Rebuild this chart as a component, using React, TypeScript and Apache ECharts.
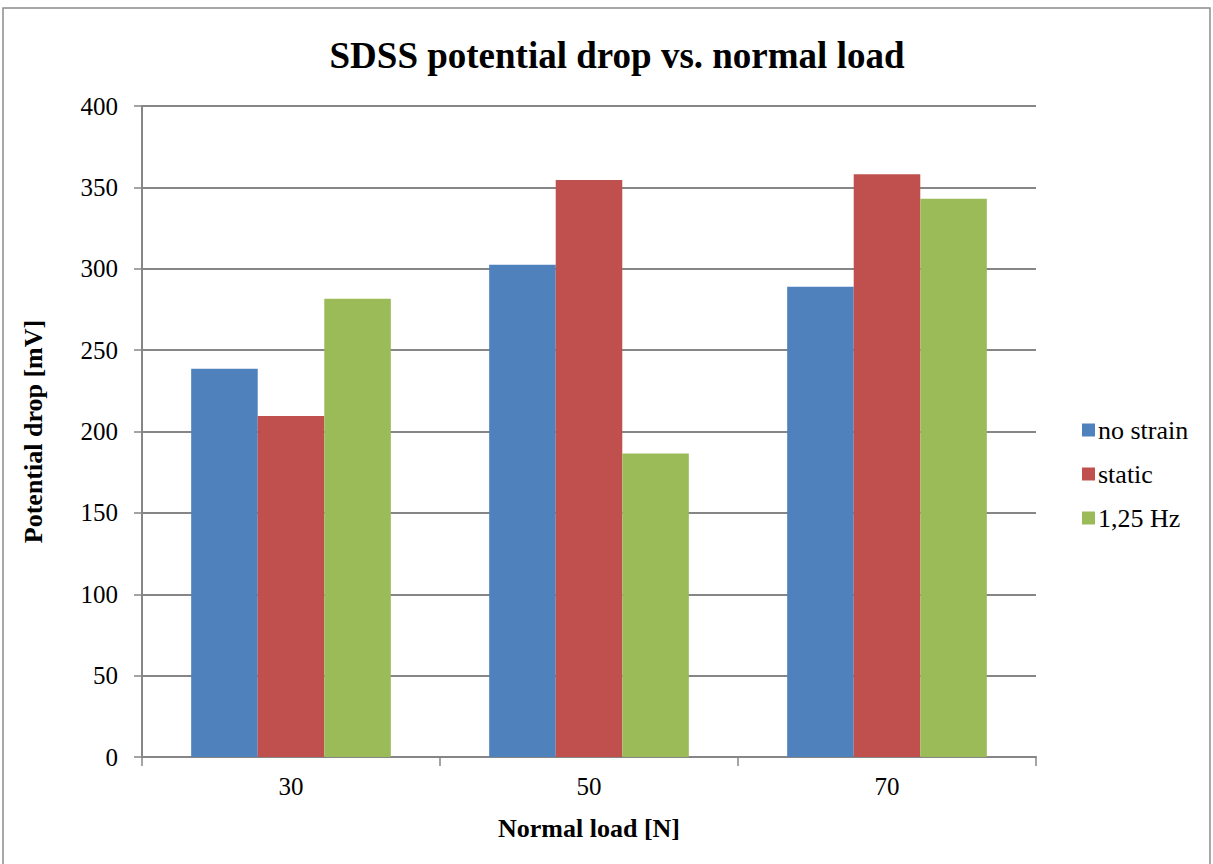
import React, { useEffect, useRef } from "react";
import * as echarts from "echarts";

const categories = ["30", "50", "70"];
const noStrain = [238.5, 302.5, 289];
const staticStrain = [209.5, 354.5, 358];
const hz125 = [281.5, 186.5, 343];
const seriesNames = ["no strain", "static", "1,25 Hz"];
const colors = ["#4F81BD", "#C0504D", "#9BBB59"];

const serif = "'Liberation Serif', 'Times New Roman', serif";

export default function App() {
  const ref = useRef<HTMLDivElement>(null);

  useEffect(() => {
    if (!ref.current) return;
    const chart = echarts.init(ref.current, undefined, { renderer: "svg" });
    const values = [noStrain, staticStrain, hz125];
    chart.setOption({
      animation: false,
      backgroundColor: "#ffffff",
      textStyle: { fontFamily: serif },
      title: {
        text: "SDSS potential drop vs. normal load",
        left: 612,
        textAlign: "center",
        top: 32,
        textStyle: { fontFamily: serif, fontSize: 37, fontWeight: "bold", color: "#000" },
      },
      graphic: [
        {
          type: "rect",
          shape: { x: 3, y: 8, width: 1207, height: 900 },
          style: { fill: "none", stroke: "#8c8c8c", lineWidth: 1.5 },
          silent: true,
          z: -1,
        },
      ],
      legend: {
        orient: "vertical",
        left: 1077,
        top: 412,
        itemWidth: 13,
        itemHeight: 13,
        itemGap: 18,
        icon: "rect",
        textStyle: { fontFamily: serif, fontSize: 26, color: "#000", padding: [0, 0, 0, -2] },
        data: seriesNames,
      },
      grid: { left: 142, right: 177, top: 106, bottom: 107 },
      xAxis: {
        type: "category",
        data: categories,
        name: "Normal load [N]",
        nameLocation: "middle",
        nameGap: 58,
        nameTextStyle: { fontFamily: serif, fontSize: 26, fontWeight: "bold", color: "#000" },
        axisLine: { lineStyle: { color: "#868686", width: 2 } },
        axisTick: { show: true, length: 9, lineStyle: { color: "#868686", width: 1.5 } },
        axisLabel: { fontFamily: serif, fontSize: 25, color: "#000", margin: 17 },
      },
      yAxis: {
        type: "value",
        min: 0,
        max: 400,
        interval: 50,
        name: "Potential drop [mV]",
        nameLocation: "middle",
        nameGap: 96,
        nameTextStyle: { fontFamily: serif, fontSize: 26, fontWeight: "bold", color: "#000" },
        axisLine: { show: true, lineStyle: { color: "#868686", width: 2 } },
        axisTick: { show: true, length: 8, lineStyle: { color: "#868686", width: 1.5 } },
        axisLabel: { fontFamily: serif, fontSize: 25, color: "#000", margin: 24 },
        splitLine: { lineStyle: { color: "#868686", width: 2 } },
      },
      series: seriesNames.map((name, i) => ({
        name,
        type: "bar",
        data: values[i],
        barGap: "0%",
        barCategoryGap: "33%",
        itemStyle: { color: colors[i] },
      })),
    });
    return () => chart.dispose();
  }, []);

  return (
    <div
      ref={ref}
      style={{ position: "fixed", left: 0, top: 0, width: 1213, height: 864 }}
    />
  );
}
